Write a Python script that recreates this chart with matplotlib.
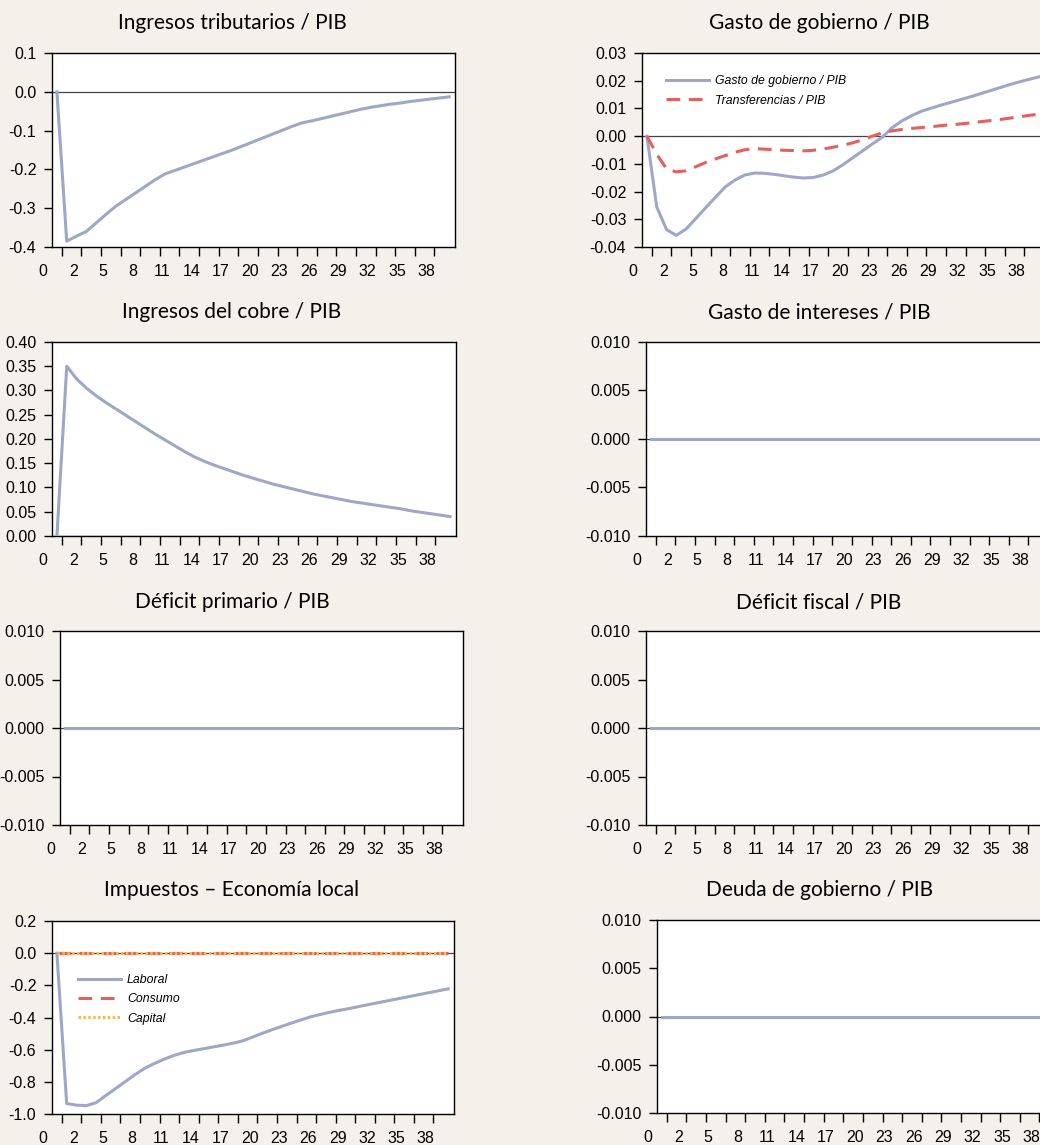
import matplotlib
matplotlib.use('Agg')
import matplotlib.pyplot as plt
from matplotlib import font_manager
from matplotlib.ticker import FormatStrFormatter, FixedLocator

avail = {f.name for f in font_manager.fontManager.ttflist}
FONT = 'Liberation Sans Narrow' if 'Liberation Sans Narrow' in avail else 'Liberation Sans'
TFONT = 'Lato' if 'Lato' in avail else FONT
plt.rcParams['font.family'] = [FONT, 'DejaVu Sans']

# ---------------- data ----------------
periods = list(range(41))

x_tick_labels = ['0', '2', '5', '8', '11', '14', '17', '20', '23', '26', '29', '32', '35', '38']

ingresos_tributarios = [0.0, -0.385, -0.372, -0.360, -0.338, -0.316, -0.295, -0.278, -0.261, -0.244,
                        -0.227, -0.212, -0.203, -0.194, -0.185, -0.176, -0.167, -0.158, -0.149, -0.139,
                        -0.129, -0.119, -0.109, -0.099, -0.089, -0.080, -0.075, -0.069, -0.063, -0.057,
                        -0.051, -0.045, -0.040, -0.036, -0.032, -0.029, -0.025, -0.022, -0.019, -0.016,
                        -0.013]

gasto_gobierno = [0.0, -0.0255, -0.0337, -0.0358, -0.0335, -0.0297, -0.0258, -0.0220, -0.0183, -0.0158,
                  -0.0140, -0.0133, -0.0134, -0.0138, -0.0143, -0.0148, -0.0151, -0.0149, -0.0140, -0.0125,
                  -0.0103, -0.0078, -0.0053, -0.0028, -0.0004, 0.0030, 0.0055, 0.0074, 0.0090, 0.0101,
                  0.0112, 0.0122, 0.0132, 0.0142, 0.0153, 0.0164, 0.0175, 0.0186, 0.0196, 0.0205,
                  0.0214]

transferencias = [0.0, -0.0065, -0.0118, -0.0129, -0.0125, -0.0110, -0.0095, -0.0082, -0.0070, -0.0058,
                  -0.0049, -0.0045, -0.0047, -0.0049, -0.0051, -0.0052, -0.0053, -0.0051, -0.0046, -0.0040,
                  -0.0033, -0.0024, -0.0013, 0.0000, 0.0012, 0.0019, 0.0024, 0.0028, 0.0031, 0.0034,
                  0.0038, 0.0041, 0.0044, 0.0048, 0.0052, 0.0056, 0.0060, 0.0065, 0.0070, 0.0075,
                  0.0079]

ingresos_cobre = [0.0, 0.350, 0.324, 0.305, 0.289, 0.275, 0.262, 0.249, 0.236, 0.223,
                  0.210, 0.198, 0.186, 0.174, 0.163, 0.154, 0.146, 0.139, 0.132, 0.125,
                  0.119, 0.113, 0.107, 0.102, 0.097, 0.092, 0.087, 0.083, 0.079, 0.075,
                  0.071, 0.068, 0.065, 0.062, 0.059, 0.056, 0.052, 0.049, 0.046, 0.043,
                  0.040]

gasto_intereses = [0.0] * 41
deficit_primario = [0.0] * 41
deficit_fiscal = [0.0] * 41
deuda_gobierno = [0.0] * 41

impuesto_laboral = [0.0, -0.935, -0.945, -0.948, -0.930, -0.885, -0.842, -0.798, -0.755, -0.715,
                    -0.685, -0.658, -0.635, -0.617, -0.605, -0.594, -0.583, -0.572, -0.560, -0.545,
                    -0.522, -0.498, -0.476, -0.455, -0.434, -0.414, -0.395, -0.380, -0.366, -0.354,
                    -0.343, -0.330, -0.318, -0.306, -0.294, -0.282, -0.270, -0.258, -0.246, -0.234,
                    -0.222]
impuesto_consumo = [0.0] * 41
impuesto_capital = [0.0] * 41

# ---------------- style ----------------
W, H = 1040, 1145
BG = '#f4f1ea'
GRAY = '#9ea7c7'
RED = '#e4605a'
ORANGE = '#f5b75a'
LW = 2.2

fig = plt.figure(figsize=(W / 100, H / 100), dpi=100)
fig.patch.set_facecolor(BG)


def make_ax(l, t, r, b):
    return fig.add_axes([l / W, 1 - b / H, (r - l) / W, (b - t) / H])


def style_ax(ax, ylim, yticks, fmt):
    ax.set_facecolor('white')
    ax.set_xlim(-0.5, 40.6)
    ax.set_ylim(*ylim)
    ax.yaxis.set_major_locator(FixedLocator(yticks))
    ax.yaxis.set_major_formatter(FormatStrFormatter(fmt))
    ax.tick_params(axis='y', direction='out', length=5.8, width=1.0, pad=5.5,
                   labelsize=11.5, colors='black')
    ax.xaxis.set_major_locator(FixedLocator([0.5 + 2 * k for k in range(20)]))
    ax.tick_params(axis='x', direction='out', length=6.7, width=1.0, labelbottom=False)
    for s in ax.spines.values():
        s.set_linewidth(1.0)
        s.set_color('black')
    ax.axhline(0, color='#444444', lw=0.9, zorder=1)
    for lbl in x_tick_labels:
        v = int(lbl)
        pos = -1.4 if v == 0 else v - 0.3
        ax.annotate(lbl, xy=(pos, 0), xycoords=('data', 'axes fraction'),
                    xytext=(0, -12.5), textcoords='offset points', ha='center', va='top',
                    fontsize=11.5, annotation_clip=False)


def title(x, y, text):
    fig.text(x / W, 1 - y / H, text, ha='center', va='baseline', fontsize=15,
             family=[TFONT, 'DejaVu Sans'])


LEG_PROP = {'family': [FONT, 'DejaVu Sans'], 'style': 'italic', 'size': 8.8}
yt_small = [-0.010, -0.005, 0.0, 0.005, 0.010]

# Panel 1
ax = make_ax(52, 53, 455, 247)
style_ax(ax, (-0.4, 0.1), [-0.4, -0.3, -0.2, -0.1, 0.0, 0.1], '%.1f')
ax.plot(periods, ingresos_tributarios, color=GRAY, lw=LW, zorder=3)
title(232, 29, 'Ingresos tributarios / PIB')

# Panel 2
ax = make_ax(642, 53, 1045, 247)
style_ax(ax, (-0.04, 0.03), [-0.04, -0.03, -0.02, -0.01, 0.0, 0.01, 0.02, 0.03], '%.2f')
ax.plot(periods, gasto_gobierno, color=GRAY, lw=LW, zorder=3, label='Gasto de gobierno / PIB')
ax.plot(periods, transferencias, color=RED, lw=LW, ls=(0, (4.5, 2.8)), zorder=3,
        label='Transferencias / PIB')
ax.legend(loc='upper left', bbox_to_anchor=(0.059, 0.885), frameon=False, borderpad=0,
          borderaxespad=0, handlelength=3.5, handletextpad=0.5, labelspacing=0.6,
          prop=LEG_PROP)
title(819, 29, 'Gasto de gobierno / PIB')

# Panel 3
ax = make_ax(52, 342, 456, 536)
style_ax(ax, (0.0, 0.40), [0.0, 0.05, 0.10, 0.15, 0.20, 0.25, 0.30, 0.35, 0.40], '%.2f')
ax.plot(periods, ingresos_cobre, color=GRAY, lw=LW, zorder=3)
title(232, 318.5, 'Ingresos del cobre / PIB')

# Panel 4
ax = make_ax(646, 342, 1049, 536)
style_ax(ax, (-0.010, 0.010), yt_small, '%.3f')
ax.plot(periods, gasto_intereses, color=GRAY, lw=LW, zorder=3)
title(819, 318.5, 'Gasto de intereses / PIB')

# Panel 5
ax = make_ax(60, 631, 463, 825)
style_ax(ax, (-0.010, 0.010), yt_small, '%.3f')
ax.plot(periods, deficit_primario, color=GRAY, lw=LW, zorder=3)
title(232, 608.5, 'Déficit primario / PIB')

# Panel 6
ax = make_ax(646, 631, 1049, 825)
style_ax(ax, (-0.010, 0.010), yt_small, '%.3f')
ax.plot(periods, deficit_fiscal, color=GRAY, lw=LW, zorder=3)
title(819, 608.5, 'Déficit fiscal / PIB')

# Panel 7
ax = make_ax(52, 921, 454, 1114)
style_ax(ax, (-1.0, 0.2), [-1.0, -0.8, -0.6, -0.4, -0.2, 0.0, 0.2], '%.1f')
ax.plot(periods, impuesto_laboral, color=GRAY, lw=LW, zorder=3, label='Laboral')
ax.plot(periods, impuesto_consumo, color=RED, lw=LW, ls=(0, (4.5, 2.8)), zorder=3, label='Consumo')
ax.plot(periods, impuesto_capital, color=ORANGE, lw=LW, ls=(0, (0.8, 0.8)), zorder=4, label='Capital')
ax.legend(loc='upper left', bbox_to_anchor=(0.065, 0.725), frameon=False, borderpad=0,
          borderaxespad=0, handlelength=3.5, handletextpad=0.5, labelspacing=0.6,
          prop=LEG_PROP)
title(232, 896, 'Impuestos – Economía local')

# Panel 8
ax = make_ax(657, 920, 1060, 1113)
style_ax(ax, (-0.010, 0.010), yt_small, '%.3f')
ax.plot(periods, deuda_gobierno, color=GRAY, lw=LW, zorder=3)
title(819, 896, 'Deuda de gobierno / PIB')

fig.savefig('out.png', dpi=100, facecolor=BG)
